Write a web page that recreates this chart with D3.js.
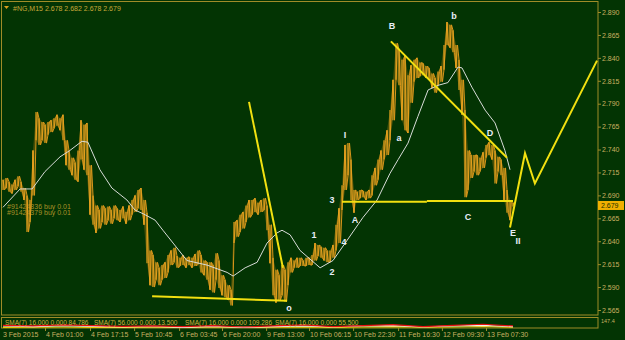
<!DOCTYPE html>
<html>
<head>
<meta charset="utf-8">
<script src="https://d3js.org/d3.v7.min.js"></script>
<style>
  body { margin: 0; background: #033403; }
  svg { display: block; font-family: "Liberation Sans", Arial, sans-serif; }
</style>
</head>
<body>
<div id="chart"></div>
<script>
// Bar highs / lows (one value per plotted bar, left to right)
var highs = [2.707, 2.709, 2.705, 2.702, 2.707, 2.711, 2.705, 2.698, 2.690, 2.685,
    2.739, 2.781, 2.774, 2.770, 2.767, 2.770, 2.772, 2.774, 2.778, 2.774,
    2.778, 2.750, 2.739, 2.731, 2.726, 2.739, 2.772, 2.767, 2.769, 2.723,
    2.690, 2.679, 2.674, 2.679, 2.676, 2.678, 2.674, 2.679, 2.676, 2.674,
    2.678, 2.672, 2.679, 2.685, 2.690, 2.696, 2.698, 2.685, 2.671, 2.630,
    2.625, 2.617, 2.611, 2.614, 2.617, 2.625, 2.630, 2.633, 2.624, 2.622,
    2.625, 2.622, 2.623, 2.622, 2.626, 2.630, 2.625, 2.619, 2.617, 2.617,
    2.614, 2.627, 2.619, 2.603, 2.598, 2.592, 2.587, 2.661, 2.663, 2.669,
    2.672, 2.679, 2.685, 2.685, 2.687, 2.682, 2.685, 2.687, 2.679, 2.658,
    2.622, 2.609, 2.603, 2.614, 2.609, 2.617, 2.622, 2.619, 2.622, 2.622,
    2.619, 2.622, 2.622, 2.625, 2.638, 2.636, 2.634, 2.633, 2.630, 2.630,
    2.636, 2.658, 2.676, 2.701, 2.745, 2.747, 2.729, 2.696, 2.694, 2.696,
    2.695, 2.694, 2.696, 2.712, 2.720, 2.729, 2.739, 2.750, 2.761, 2.783,
    2.816, 2.856, 2.849, 2.838, 2.843, 2.821, 2.832, 2.838, 2.840, 2.835,
    2.834, 2.831, 2.829, 2.823, 2.818, 2.825, 2.831, 2.854, 2.879, 2.876,
    2.870, 2.854, 2.838, 2.816, 2.783, 2.739, 2.734, 2.734, 2.734, 2.731,
    2.737, 2.745, 2.748, 2.745, 2.739, 2.732, 2.729, 2.720, 2.696, 2.685,
    2.682];

var lows = [2.696, 2.698, 2.694, 2.692, 2.696, 2.700, 2.694, 2.685, 2.650, 2.661,
    2.690, 2.750, 2.745, 2.750, 2.747, 2.756, 2.759, 2.763, 2.766, 2.761,
    2.750, 2.723, 2.718, 2.712, 2.707, 2.705, 2.729, 2.718, 2.712, 2.669,
    2.658, 2.649, 2.654, 2.661, 2.658, 2.663, 2.659, 2.665, 2.663, 2.661,
    2.665, 2.659, 2.663, 2.669, 2.672, 2.676, 2.674, 2.658, 2.616, 2.592,
    2.590, 2.598, 2.592, 2.598, 2.600, 2.606, 2.614, 2.617, 2.611, 2.613,
    2.614, 2.611, 2.614, 2.611, 2.613, 2.615, 2.606, 2.603, 2.598, 2.587,
    2.584, 2.598, 2.589, 2.581, 2.579, 2.576, 2.570, 2.638, 2.645, 2.650,
    2.654, 2.661, 2.666, 2.669, 2.672, 2.669, 2.672, 2.674, 2.652, 2.616,
    2.581, 2.573, 2.576, 2.581, 2.574, 2.592, 2.606, 2.611, 2.611, 2.613,
    2.613, 2.613, 2.614, 2.614, 2.619, 2.624, 2.622, 2.619, 2.617, 2.617,
    2.622, 2.630, 2.638, 2.674, 2.696, 2.712, 2.685, 2.671, 2.685, 2.687,
    2.688, 2.685, 2.687, 2.690, 2.701, 2.707, 2.718, 2.729, 2.734, 2.750,
    2.772, 2.816, 2.810, 2.772, 2.761, 2.758, 2.791, 2.814, 2.818, 2.820,
    2.821, 2.818, 2.816, 2.807, 2.802, 2.810, 2.814, 2.827, 2.854, 2.851,
    2.846, 2.829, 2.805, 2.778, 2.688, 2.696, 2.709, 2.716, 2.712, 2.716,
    2.720, 2.731, 2.734, 2.729, 2.703, 2.716, 2.712, 2.685, 2.671, 2.663,
    2.678];

// Moving average (white line): bar position and value
var maBars = [0, 5.7, 9.7, 14, 19, 22.3, 26.3, 28.3, 32.3, 36.3, 41.3, 44, 46.7, 50.7,
    53.3, 56.7, 61.3, 68, 74.7, 76.7, 80.7, 84.7, 88, 91.3, 93, 95.7, 99, 105.7, 110,
    114.7, 120, 124.7, 129, 131.7, 135, 138.3, 141.7, 145, 148.3, 151.7, 153, 156.3,
    160.7, 164, 167.3, 169];
var maValues = [2.677, 2.697, 2.697, 2.716, 2.732, 2.739, 2.749, 2.748, 2.718, 2.698,
    2.685, 2.674, 2.670, 2.663, 2.652, 2.638, 2.619, 2.614, 2.606, 2.602, 2.611, 2.617,
    2.638, 2.649, 2.652, 2.647, 2.630, 2.611, 2.619, 2.641, 2.666, 2.685, 2.714, 2.729,
    2.747, 2.776, 2.805, 2.810, 2.813, 2.830, 2.829, 2.808, 2.783, 2.769, 2.739, 2.718];

// Hand drawn yellow lines: [bar, price] pairs
var supportLine = [[49.7, 2.580], [94.7, 2.575]];
var steepLine = [[82, 2.792], [93.3, 2.611]];
var neckLine1 = [[113, 2.683], [141.3, 2.683]];
var neckLine2 = [[141.3, 2.684], [170, 2.684]];
var fallLine = [[129.3, 2.858], [168, 2.731]];
var projection = [[169, 2.655], [174, 2.736], [177.3, 2.703], [198, 2.837]];

// Wave labels
var waveText = ["B", "b", "a", "I", "3", "A", "1", "4", "2", "o", "C", "D", "E", "II"];
var waveBars = [129.7, 150.3, 132, 114, 109.7, 117.3, 103.7, 113.7, 109.7, 95.3, 155, 162.3, 170, 171.7];
var wavePrices = [2.875, 2.886, 2.753, 2.756, 2.686, 2.664, 2.647, 2.640, 2.607, 2.568, 2.667, 2.759, 2.650, 2.641];

// Axis ticks
var priceTicks = [2.890, 2.865, 2.840, 2.815, 2.790, 2.765, 2.740, 2.715, 2.690, 2.665, 2.640, 2.615, 2.590, 2.565];
var timeLabels = ["3 Feb 2015", "4 Feb 01:00", "4 Feb 17:15", "5 Feb 10:45", "6 Feb 03:45", "6 Feb 20:00",
    "9 Feb 13:00", "10 Feb 06:15", "10 Feb 22:30", "11 Feb 16:30", "12 Feb 09:30", "13 Feb 07:30"];
var timeBars = [0, 14, 29, 43.7, 58.7, 73, 87.7, 102, 116.7, 131.7, 146.3, 161];

// Indicator window lines (every 10 bars)
var indBars = [0, 10, 20, 30, 40, 50, 60, 70, 80, 90, 100, 110, 120, 130, 140, 150, 160, 170];
var indRed = [40, 30, 45, 35, 25, 30, 20, 35, 15, 30, 45, 20, 35, 50, 20, 40, 55, 30];
var indWhite = [30, 20, 35, 25, 15, 25, 10, 25, 10, 20, 30, 15, 30, 35, 15, 30, 40, 20];
var indYellow = [10, 12, 15, 10, 8, 12, 10, 15, 8, 12, 18, 10, 15, 20, 12, 15, 22, 12];
var indLabels = ["SMA(7) 16.000 0.000 84.786", "SMA(7) 56.000 0.000 13.500",
    "SMA(7) 16.000 0.000 109.286", "SMA(7) 16.000 0.000 55.500"];

var lastPrice = 2.679;

var svgWidth = 625, svgHeight = 340;
var frameColor = "#a08c28";
var textColor = "#c8b060";

var svg = d3.select("#chart").append("svg")
    .attr("width", svgWidth)
    .attr("height", svgHeight);

// Scales
var x = d3.scaleLinear().domain([0, 170]).range([3, 513]);
var y = d3.scaleLinear().domain([2.565, 2.890]).range([310, 12]);
var yInd = d3.scaleLinear().domain([0, 147.4]).range([328, 318]);

// Frames
svg.append("rect").attr("x", 1.5).attr("y", 1.5).attr("width", 596.5).attr("height", 313.5)
    .attr("fill", "none").attr("stroke", frameColor);
svg.append("rect").attr("x", 1.5).attr("y", 317.5).attr("width", 596.5).attr("height", 10.5)
    .attr("fill", "none").attr("stroke", frameColor);

// Order labels (under the bars)
var orders = ["#91424836 buy 0.01", "#91424379 buy 0.01"];
svg.selectAll(".order").data(orders).enter().append("text")
    .attr("x", 7)
    .attr("y", (d, i) => 209 + i * 5.5)
    .attr("font-size", "7px")
    .attr("fill", "#a89228")
    .text(d => d);

// Price bars: faint band, high-low zigzag and vertical bars
var idx = d3.range(highs.length);
var band = d3.area()
    .x(i => x(i))
    .y0(i => y(lows[i]))
    .y1(i => y(highs[i]));
svg.append("path").datum(idx)
    .attr("d", band)
    .attr("fill", "#9a7410")
    .attr("opacity", 0.45);

var zig = [];
idx.forEach(i => {
    zig.push([x(i), y(i % 2 ? lows[i] : highs[i])]);
    zig.push([x(i) + 1.5, y(i % 2 ? highs[i] : lows[i])]);
});
svg.append("path")
    .attr("d", d3.line()(zig))
    .attr("fill", "none")
    .attr("stroke", "#d9961a")
    .attr("stroke-width", 1);

svg.selectAll(".bar").data(idx).enter().append("line")
    .attr("x1", i => x(i)).attr("x2", i => x(i))
    .attr("y1", i => y(highs[i])).attr("y2", i => y(lows[i]))
    .attr("stroke", "#f0aa22")
    .attr("stroke-width", 1.1);

// Moving average
var maLine = d3.line().x(d => x(d[0])).y(d => y(d[1]));
svg.append("path").datum(d3.zip(maBars, maValues))
    .attr("d", maLine)
    .attr("fill", "none")
    .attr("stroke", "#d8dcd8")
    .attr("stroke-width", 1);

// Yellow drawn lines
var drawn = [supportLine, steepLine, neckLine1, neckLine2, fallLine, projection];
svg.selectAll(".drawn").data(drawn).enter().append("path")
    .attr("d", maLine)
    .attr("fill", "none")
    .attr("stroke", "#f2e010")
    .attr("stroke-width", 2);

// Wave labels
svg.selectAll(".wave").data(waveText).enter().append("text")
    .attr("x", (d, i) => x(waveBars[i]))
    .attr("y", (d, i) => y(wavePrices[i]) + 3.5)
    .attr("text-anchor", "middle")
    .attr("font-size", "9px")
    .attr("font-weight", "bold")
    .attr("fill", "#e8eef8")
    .text(d => d);

// Price axis on the right
var yAxis = d3.axisRight(y).tickValues(priceTicks).tickSize(3).tickFormat(d3.format(".3f"));
var yAxisG = svg.append("g").attr("transform", "translate(598,0)").call(yAxis);
yAxisG.select(".domain").remove();
yAxisG.selectAll("line").attr("stroke", frameColor);
yAxisG.selectAll("text").attr("fill", textColor).attr("font-size", "7px").attr("x", 4)
    .attr("font-family", "Liberation Sans, Arial, sans-serif");

// Current price box
svg.append("rect").attr("x", 598).attr("y", y(lastPrice) - 4.5).attr("width", 26).attr("height", 9)
    .attr("fill", "#f0b000");
svg.append("text").attr("x", 601).attr("y", y(lastPrice) + 2.5)
    .attr("font-size", "7px").attr("fill", "#203000").text(d3.format(".3f")(lastPrice));

// Time axis
var xAxis = d3.axisBottom(x).tickValues(timeBars.slice(1)).tickSize(3).tickFormat("");
var xAxisG = svg.append("g").attr("transform", "translate(0,328)").call(xAxis);
xAxisG.select(".domain").remove();
xAxisG.selectAll("line").attr("stroke", frameColor);
svg.selectAll(".tlabel").data(timeLabels).enter().append("text")
    .attr("x", (d, i) => i === 0 ? 3 : x(timeBars[i]) + 1)
    .attr("y", 337)
    .attr("font-size", "7px")
    .attr("fill", textColor)
    .text(d => d);

// Indicator window
var indLine = d3.line().x(d => x(d[0])).y(d => yInd(d[1]));
[[indYellow, "#f0d000"], [indWhite, "#f0f0f0"], [indRed, "#e81010"]].forEach(s => {
    svg.append("path").datum(d3.zip(indBars, s[0]))
        .attr("d", indLine)
        .attr("fill", "none")
        .attr("stroke", s[1])
        .attr("stroke-width", 1.2);
});
var indX = [5, 94, 185, 275];
svg.selectAll(".ind").data(indLabels).enter().append("text")
    .attr("x", (d, i) => indX[i])
    .attr("y", 324.5)
    .attr("font-size", "6.5px")
    .attr("fill", "#d0b040")
    .text(d => d);
svg.append("text").attr("x", 601).attr("y", 323).attr("font-size", "5.5px")
    .attr("fill", textColor).text("147.4");

// Title
svg.append("path").attr("d", "M4,6 L9,6 L6.5,9 Z").attr("fill", "#d8a020");
svg.append("text").attr("x", 13).attr("y", 10.5)
    .attr("font-size", "7px")
    .attr("fill", "#c8a838")
    .text("#NG,M15  2.678 2.682 2.678 2.679");
</script>
</body>
</html>
